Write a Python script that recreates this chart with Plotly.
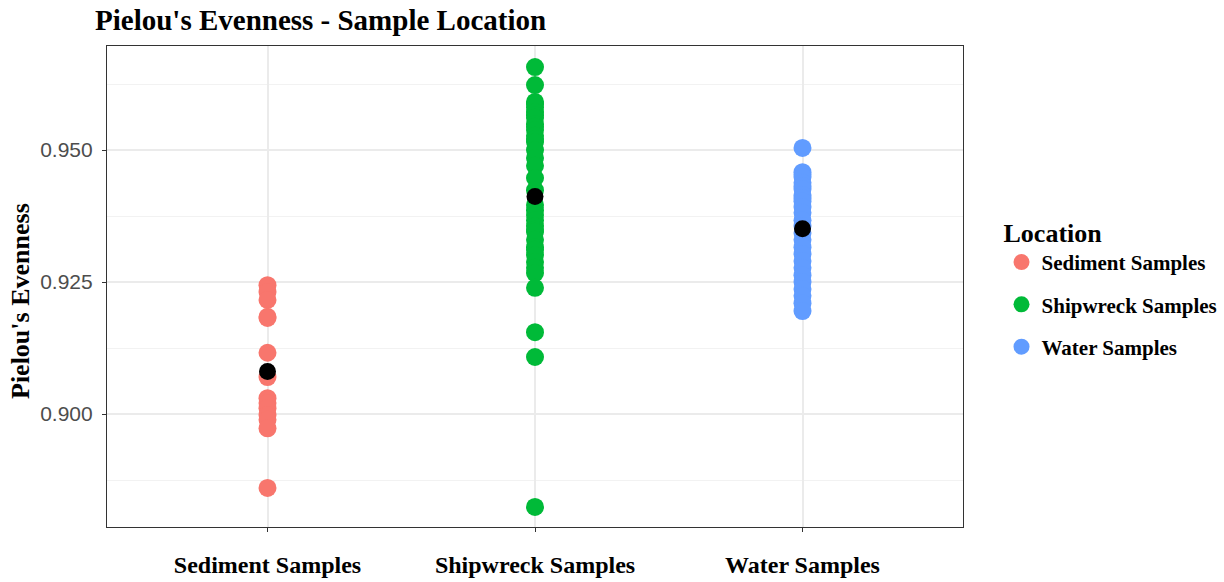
import numpy as np
import plotly.graph_objects as go

# Pielou's evenness per sample, grouped by sampling location
categories = ["Sediment Samples", "Shipwreck Samples", "Water Samples"]
colors = ["#F8766D", "#00BA38", "#619CFF"]

sediment = [0.9244, 0.9231, 0.9216, 0.9184, 0.9182, 0.9116, 0.9070,
            0.9030, 0.9021, 0.9011, 0.8998, 0.8989, 0.8973, 0.8860]

shipwreck = [0.9657, 0.9623, 0.9591, 0.9587, 0.9581, 0.9572, 0.9566,
             0.9561, 0.9549, 0.9544, 0.9538, 0.9527, 0.9521, 0.9515,
             0.9500, 0.9485, 0.9470, 0.9447, 0.9424, 0.9396, 0.9386,
             0.9377, 0.9367, 0.9356, 0.9349, 0.9345, 0.9330, 0.9316,
             0.9311, 0.9301, 0.9288, 0.9277, 0.9267, 0.9239, 0.9155,
             0.9108, 0.8824]

water = [0.9504, 0.9458, 0.9453, 0.9449, 0.9438, 0.9432, 0.9426,
         0.9415, 0.9409, 0.9403, 0.9392, 0.9381, 0.9367, 0.9356,
         0.9343, 0.9330, 0.9316, 0.9303, 0.9290, 0.9277, 0.9263,
         0.9250, 0.9237, 0.9224, 0.9210, 0.9195]

groups = [sediment, shipwreck, water]

serif = "Liberation Serif, Times New Roman, serif"
sans = "Liberation Sans, Arial, sans-serif"

fig = go.Figure()

for i, (name, vals, col) in enumerate(zip(categories, groups, colors)):
    fig.add_trace(go.Scatter(
        x=[name] * len(vals), y=vals, mode="markers", name=name,
        legendgroup=name,
        marker=dict(color=col, size=18, line=dict(width=0)),
        hoverinfo="y",
    ))

# group means
fig.add_trace(go.Scatter(
    x=categories, y=[float(np.mean(v)) for v in groups], mode="markers",
    marker=dict(color="black", size=17, line=dict(width=0)),
    showlegend=False, hoverinfo="y",
))

fig.update_layout(
    width=1224, height=582,
    margin=dict(l=107, r=261, t=46, b=55, autoexpand=False),
    paper_bgcolor="white", plot_bgcolor="white",
    title=dict(text="<b>Pielou's Evenness - Sample Location</b>",
               font=dict(family=serif, size=29, color="black"),
               xref="container", x=95 / 1224, xanchor="left",
               yref="container", y=1 - 20 / 582, yanchor="middle"),
    showlegend=True,
    legend=dict(
        title=dict(text="<b>Location</b>", font=dict(family=serif, size=26, color="black")),
        font=dict(family=serif, size=21, color="black", weight="bold"),
        x=1.045, xanchor="left", y=0.663, yanchor="top",
        tracegroupgap=12, itemsizing="trace",
        bgcolor="rgba(0,0,0,0)",
    ),
    annotations=[dict(
        text="<b>Pielou's Evenness</b>", textangle=-90,
        font=dict(family=serif, size=26, color="black"),
        xref="paper", x=-(107 - 20) / 856, xanchor="center",
        yref="paper", y=(527 - 301) / 481, yanchor="middle",
        showarrow=False,
    )],
)

fig.update_xaxes(
    type="category", categoryorder="array", categoryarray=categories,
    range=[-0.6, 2.6], automargin=False,
    showgrid=True, gridcolor="#EBEBEB", gridwidth=1.6,
    showline=True, linecolor="#333333", linewidth=1.2, mirror=True,
    ticks="outside", ticklen=4, tickcolor="#333333",
    ticklabelstandoff=12,
    tickfont=dict(family=serif, size=24, color="black", weight="bold"),
    zeroline=False,
)

fig.update_yaxes(
    range=[0.8786, 0.9697], automargin=False,
    tickvals=[0.900, 0.925, 0.950], ticktext=["0.900", "0.925", "0.950"],
    showgrid=True, gridcolor="#EBEBEB", gridwidth=1.6,
    minor=dict(tickvals=[0.8875, 0.9125, 0.9375, 0.9625], showgrid=True,
               gridcolor="#F2F2F2", gridwidth=1, ticks=""),
    showline=True, linecolor="#333333", linewidth=1.2, mirror=True,
    ticks="outside", ticklen=4, tickcolor="#333333",
    ticklabelstandoff=5,
    tickfont=dict(family=sans, size=21, color="#4D4D4D"),
    zeroline=False,
)

fig.write_html("out.html")
